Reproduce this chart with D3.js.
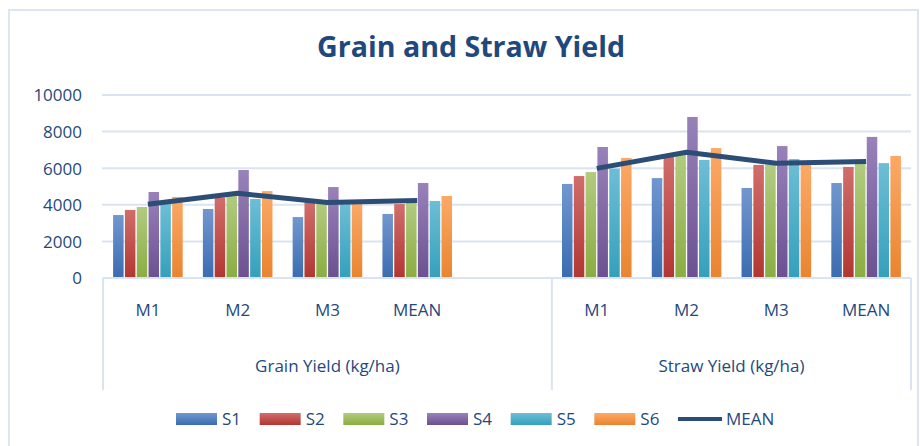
<!DOCTYPE html>
<html>
<head>
<meta charset="utf-8">
<script src="https://cdn.jsdelivr.net/npm/d3@7"></script>
<style>
  html, body { margin: 0; padding: 0; background: #ffffff; }
  svg { display: block; }
  text { font-family: "Open Sans", "Noto Sans", sans-serif; }
</style>
</head>
<body>
<svg id="chart" width="920" height="446"></svg>
<script>
// ---- data ----
const title = "Grain and Straw Yield";
const groups = ["Grain Yield (kg/ha)", "Straw Yield (kg/ha)"];
const categories = ["M1", "M2", "M3", "MEAN"];
const seriesNames = ["S1", "S2", "S3", "S4", "S5", "S6"];
// values: grain M1..MEAN, then straw M1..MEAN
const S1 = [3440, 3770, 3330, 3500, 5140, 5460, 4920, 5190];
const S2 = [3720, 4400, 4150, 4040, 5570, 6630, 6180, 6070];
const S3 = [3880, 4500, 4100, 4120, 5790, 6720, 6200, 6270];
const S4 = [4700, 5900, 4970, 5190, 7160, 8800, 7210, 7710];
const S5 = [4050, 4320, 4100, 4210, 5980, 6450, 6500, 6280];
const S6 = [4430, 4750, 4150, 4480, 6560, 7100, 6170, 6670];
const MEAN = [4030, 4630, 4130, 4230, 5990, 6870, 6270, 6360];
const yTicks = [0, 2000, 4000, 6000, 8000, 10000];

const seriesValues = [S1, S2, S3, S4, S5, S6];
const grad = [
  ["#7297cf", "#3a6cb1"],
  ["#d06e6b", "#b23632"],
  ["#b2cb80", "#8aad41"],
  ["#9982ba", "#6c5091"],
  ["#6dbed5", "#34a0bc"],
  ["#fca966", "#e98430"]
];
const lineColor = "#2c4d75";
const textColor = "#1f497d";
const gridColor = "#dae4f1";

// ---- layout ----
const svg = d3.select("#chart");
const pLeft = 103, pRight = 911, pTop = 95, pBottom = 278;

// slot keys: grain has an extra empty slot at its end
const slots = [];
groups.forEach((g, gi) => {
  categories.forEach(c => slots.push(g + "|" + c));
  if (gi === 0) slots.push(g + "|");
});
const x0 = d3.scaleBand().domain(slots).range([pLeft, pRight]).padding(0);
const bw = x0.bandwidth();
const groupW = bw * 0.775;
const x1 = d3.scaleBand().domain(seriesNames).range([0, groupW]).paddingInner(0.11);
const y = d3.scaleLinear().domain([0, 10000]).range([pBottom, pTop]);

// defs: gradients
const defs = svg.append("defs");
grad.forEach((g, i) => {
  const lg = defs.append("linearGradient").attr("id", "g" + i)
    .attr("x1", 0).attr("y1", 0).attr("x2", 0).attr("y2", 1);
  lg.append("stop").attr("offset", "0%").attr("stop-color", g[0]);
  lg.append("stop").attr("offset", "100%").attr("stop-color", g[1]);
});

// chart border
svg.append("rect").attr("x", 9).attr("y", 10).attr("width", 909).attr("height", 460)
  .attr("fill", "none").attr("stroke", "#dce6f2").attr("stroke-width", 2);

// title
svg.append("text").attr("x", 471).attr("y", 57).attr("text-anchor", "middle")
  .attr("font-size", 29).attr("font-weight", 700).attr("fill", textColor)
  .attr("textLength", 308).attr("lengthAdjust", "spacingAndGlyphs")
  .text(title);

// gridlines
svg.append("g").selectAll("line").data(yTicks.filter(d => d > 0)).join("line")
  .attr("x1", pLeft - 1).attr("x2", pRight).attr("y1", d => y(d)).attr("y2", d => y(d))
  .attr("stroke", gridColor).attr("stroke-width", 2);

// y axis labels
const yAxis = d3.axisLeft(y).tickValues(yTicks).tickSize(0).tickPadding(0).tickFormat(d3.format("d"));
const yg = svg.append("g").attr("transform", `translate(82,0)`).call(yAxis);
yg.select(".domain").remove();
yg.selectAll("text").attr("font-size", 17).attr("fill", textColor)
  .attr("font-family", "'Open Sans', sans-serif").attr("dy", "0.35em");

// bars
const cells = [];
groups.forEach((g, gi) => {
  categories.forEach((c, ci) => {
    seriesNames.forEach((s, si) => {
      cells.push({ key: g + "|" + c, s, si, v: seriesValues[si][gi * categories.length + ci] });
    });
  });
});
svg.append("g").selectAll("rect").data(cells).join("rect")
  .attr("x", d => x0(d.key) + (bw - groupW) / 2 + x1(d.s))
  .attr("width", x1.bandwidth())
  .attr("y", d => y(d.v))
  .attr("height", d => y(0) - y(d.v))
  .attr("fill", d => `url(#g${d.si})`);

// mean lines
const line = d3.line().x(d => x0(d.key) + bw / 2).y(d => y(d.v));
groups.forEach((g, gi) => {
  const pts = categories.map((c, ci) => ({ key: g + "|" + c, v: MEAN[gi * categories.length + ci] }));
  svg.append("path").datum(pts).attr("d", line)
    .attr("fill", "none").attr("stroke", lineColor).attr("stroke-width", 5)
    .attr("stroke-linejoin", "round");
});

// x axis line and dividers
svg.append("line").attr("x1", pLeft).attr("x2", pRight).attr("y1", pBottom).attr("y2", pBottom)
  .attr("stroke", gridColor).attr("stroke-width", 2);
const divs = [pLeft, x0(groups[1] + "|" + categories[0]), pRight];
svg.append("g").selectAll("line").data(divs).join("line")
  .attr("x1", d => d).attr("x2", d => d).attr("y1", pBottom).attr("y2", 390)
  .attr("stroke", gridColor).attr("stroke-width", 2);

// category labels
const xAxis = d3.axisBottom(x0).tickSize(0).tickPadding(0)
  .tickValues(slots.filter(k => !k.endsWith("|")))
  .tickFormat(k => k.split("|")[1]);
const xg = svg.append("g").attr("transform", `translate(0,316)`).call(xAxis);
xg.select(".domain").remove();
xg.selectAll("text").attr("font-size", 17).attr("fill", textColor)
  .attr("font-family", "'Open Sans', sans-serif").attr("dy", 0);

// group labels
svg.append("g").selectAll("text").data(groups).join("text")
  .attr("x", (g, gi) => (divs[gi] + divs[gi + 1]) / 2)
  .attr("y", 372).attr("text-anchor", "middle")
  .attr("font-size", 17).attr("fill", textColor).text(g => g);

// legend
const legX = d3.scaleLinear().domain([0, 6]).range([176, 678]);
const leg = svg.append("g");
seriesNames.forEach((s, i) => {
  leg.append("rect").attr("x", legX(i)).attr("y", 413).attr("width", 41).attr("height", 12)
    .attr("fill", `url(#g${i})`);
  leg.append("text").attr("x", legX(i) + 46).attr("y", 425)
    .attr("font-size", 17).attr("fill", textColor).text(s);
});
leg.append("line").attr("x1", legX(6)).attr("x2", legX(6) + 44).attr("y1", 419).attr("y2", 419)
  .attr("stroke", lineColor).attr("stroke-width", 4);
leg.append("text").attr("x", legX(6) + 48).attr("y", 425)
  .attr("font-size", 17).attr("fill", textColor).text("MEAN");
</script>
</body>
</html>
